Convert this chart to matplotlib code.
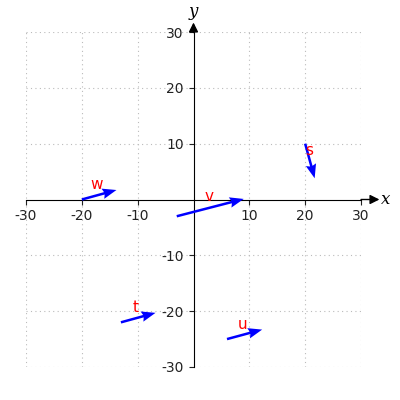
import matplotlib
matplotlib.use("Agg")
import matplotlib.pyplot as plt
import numpy as np

plt.rcParams['axes.unicode_minus'] = False

names = ['w', 'v', 's', 't', 'u']
start_x = [-20, -3, 20, -13, 6]
start_y = [0, -3, 10, -22, -25]
comp_x = [6.2, 12.0, 1.7, 6.2, 6.3]
comp_y = [1.7, 3.1, -6.2, 1.7, 1.7]
label_x = [-17.3, 2.8, 20.7, -10.3, 8.7]
label_y = [2.6, 0.5, 8.7, -19.4, -22.3]
ticks = [-30, -20, -10, 10, 20, 30]

fig = plt.figure(figsize=(4, 4), dpi=100)
ax = fig.add_axes([0.065, 0.0825, 0.8375, 0.8375])
ax.set_xlim(-30, 30)
ax.set_ylim(-30, 30)

ax.spines['left'].set_position(('data', 0))
ax.spines['bottom'].set_position(('data', 0))
ax.spines['right'].set_visible(False)
ax.spines['top'].set_visible(False)
ax.set_xticks(ticks)
ax.set_yticks(ticks)
ax.tick_params(labelsize=10, colors='#222222')
ax.grid(True, linestyle=(0, (1, 3)), color='#bbbbbb', linewidth=0.8)
ax.set_axisbelow(True)

ax.quiver(start_x, start_y, comp_x, comp_y, angles='xy', scale_units='xy',
          scale=1, color='blue', width=0.0075, headwidth=4.2, headlength=5.6,
          headaxislength=5.0, zorder=3)
for n, lx, ly in zip(names, label_x, label_y):
    ax.text(lx, ly, n, color='red', fontsize=11, ha='center', va='center', zorder=4)

ax.annotate('', xy=(33.3, 0), xytext=(30, 0),
            arrowprops=dict(arrowstyle='-|>', color='black', lw=1.0, mutation_scale=14,
                            shrinkA=0, shrinkB=0), annotation_clip=False)
ax.annotate('', xy=(0, 31.7), xytext=(0, 29.9),
            arrowprops=dict(arrowstyle='-|>', color='black', lw=1.0, mutation_scale=14,
                            shrinkA=0, shrinkB=0), annotation_clip=False)
ax.text(34.5, 0, 'x', fontsize=12, family='DejaVu Serif', style='italic',
        ha='center', va='center', clip_on=False)
ax.text(0, 33.6, 'y', fontsize=12, family='DejaVu Serif', style='italic',
        ha='center', va='center', clip_on=False)

fig.savefig('out.png', dpi=100)
